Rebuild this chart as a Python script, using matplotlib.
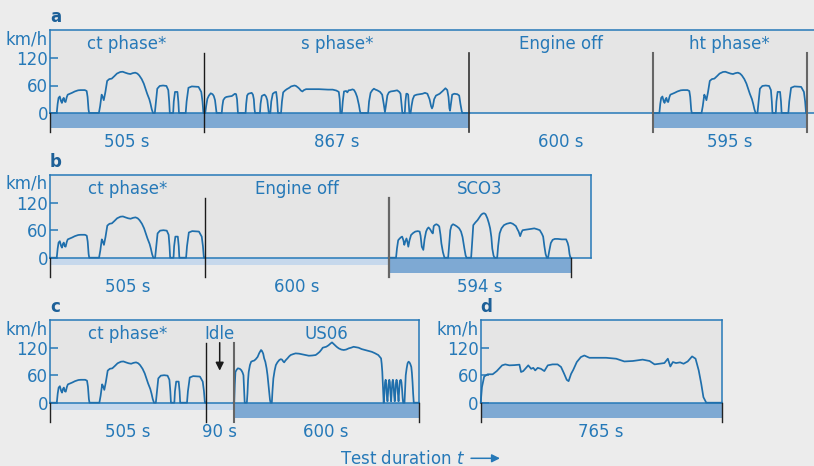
import matplotlib
matplotlib.use("Agg")
import matplotlib.pyplot as plt
from matplotlib.patches import Rectangle
import numpy as np

# ---------------- data ----------------
# FTP-75 cold transient phase (also used for hot transient), seconds / km/h
ct_t = [0, 22, 25, 28, 32, 36, 39, 42, 45, 48, 51, 55, 58, 65, 72, 81, 92, 100, 114, 120, 123, 126, 128,
        160, 164, 169, 172, 176, 181, 187, 194, 202, 210, 219, 230, 238, 246, 255, 263, 271, 279, 286, 292,
        300, 307, 318, 325, 329, 333, 337, 343, 346, 351, 359, 370, 381, 387, 390, 392, 403, 405, 409, 417,
        420, 422, 444, 447, 453, 464, 486, 495, 499, 502, 505]
ct_v = [0, 0, 20, 33, 36, 26, 22, 30, 33, 25, 24, 35, 40, 42, 44, 47, 49.5, 50, 50, 48, 35, 8, 0,
        0, 15, 40, 36, 28, 45, 70, 74, 75, 80, 86, 89.5, 90, 88, 86, 85, 87, 88, 86, 82,
        74, 64, 42, 30, 20, 8, 0, 0, 20, 53, 59, 60, 59, 50, 25, 0, 0, 25, 46, 46,
        25, 0, 0, 25, 55, 58, 57, 46, 25, 0, 0]

# FTP-75 stabilized phase
s_t = [0, 3, 6, 10, 15, 21, 27, 31, 35, 38, 40,
       57, 59, 62, 67, 72, 80, 90, 96, 100, 104, 107, 110,
       135, 137, 140, 144, 150, 155, 159, 162, 164, 166,
       182, 184, 188, 193, 197, 202, 206, 209, 211,
       216, 219, 224, 230, 235, 238, 240, 241,
       251, 254, 258, 264, 270, 278, 284, 289, 295, 300, 306, 311, 316, 321, 326, 333, 345, 360, 375,
       390, 405, 420, 432, 440, 443, 445,
       450, 453, 457, 464, 468, 472, 478, 485, 490, 495, 500, 506, 509, 511,
       536, 539, 544, 550, 555, 560, 566, 575, 582, 587, 591, 594, 599, 604, 610, 620, 631, 638, 642,
       645, 648,
       656, 658, 661, 664, 667, 669, 671,
       675, 678, 682, 687, 695, 705, 714, 722, 730, 737, 742, 745, 748, 752, 758, 770, 780, 789, 795,
       799, 802, 804, 807, 811, 818, 828, 834, 838, 842, 844, 867]
s_v = [0, 0, 15, 31, 38, 43, 41, 37, 28, 10, 0,
       0, 15, 28, 33, 35, 36, 37, 40, 42, 41, 30, 0,
       0, 20, 38, 42, 43, 44, 40, 30, 10, 0,
       0, 20, 37, 39, 40, 36, 28, 10, 0,
       0, 25, 42, 45, 46, 30, 10, 0,
       0, 25, 45, 49, 52, 55, 58, 59, 60, 59, 56, 53, 49, 47, 50, 52, 52, 52, 52,
       51.5, 51, 51, 49, 46, 30, 0,
       0, 25, 47, 48, 45, 49.5, 50, 51.6, 50, 44, 35, 17, 5, 0,
       0, 25, 44, 50, 53, 51, 49.5, 46, 40, 20, 2, 15, 38.5, 45, 47, 48, 49.5, 46, 42,
       20, 0,
       0, 25, 42, 42, 40, 20, 0,
       0, 15, 30, 38, 40, 41, 42, 44, 42, 30, 15, 10, 15, 30, 38, 42, 48, 54, 50,
       35, 10, 5, 20, 40, 42, 41, 38, 20, 5, 0, 0]

# SC03
sc03_t = [0, 24, 27, 31, 36, 41, 44, 48, 51, 54, 58, 61, 64, 68, 73, 80, 87, 95, 101, 104, 108, 113, 117,
          122, 126, 130, 134, 137, 141, 144, 147, 152, 156, 161, 165, 169, 172, 177, 182,
          194, 197, 201, 205, 210, 216, 223, 230, 236, 241, 247, 251, 254,
          269, 272, 276, 283, 290, 295, 301, 306, 311, 316, 322, 327, 331, 335, 338, 342, 345,
          354, 357, 362, 368, 376, 385, 397, 405, 415, 420, 424, 429, 433, 437, 446, 456, 466, 475,
          485, 493, 500, 504, 508, 512, 516, 520, 524, 529, 535, 542, 552, 565, 579, 584, 587, 590,
          593, 594]
sc03_v = [0, 0, 20, 38, 42, 45, 46, 38, 28, 35, 42, 35, 24, 38, 49.5, 54, 57, 58, 57, 48, 24, 17, 40,
          57, 63, 66, 63, 60, 55, 53, 69, 72, 73, 71, 68, 50, 31, 12, 0,
          0, 25, 60, 70, 73, 71, 68, 64, 57, 45, 20, 5, 0,
          0, 30, 71, 77, 82, 87, 93, 96, 97, 95, 86, 75, 64, 45, 20, 5, 0,
          0, 25, 53, 64, 71, 74, 76, 74, 69, 62, 57, 47, 55, 60, 61, 62, 63, 64,
          62, 60, 52, 46, 25, 8, 0, 0, 15, 32, 39, 41, 41, 40, 40, 32, 24, 8,
          0, 0]

# US06
us06_t = [0, 2, 4, 6, 10, 14, 20, 25, 29, 32, 34, 36, 43, 45, 47, 49, 53, 57, 62, 67, 72, 78, 83, 87,
          89, 92, 96, 99, 103, 107, 110, 113, 116, 118, 120, 124, 126, 129, 133, 137, 142, 148, 153,
          157, 161, 164, 168, 175, 180, 185, 193, 201, 212, 223, 233, 244, 255, 266, 272, 279, 285,
          289, 294, 300, 305, 309, 314, 319, 323, 328, 334, 341, 349, 357, 365, 373, 381, 389, 397,
          405, 415, 426, 437, 448, 458, 469, 474, 478, 480, 482, 484, 486.5,
          489, 491, 493, 495, 497, 498.8, 501, 503, 504.7, 506.5, 508.5, 510.6, 512.5, 514.5, 516.4,
          518.5, 520.5, 522.3, 524.5, 526.5, 528.2, 530, 532, 534.7, 537, 539, 542, 544, 546, 548,
          549.6, 554, 556, 558, 561, 564, 567, 570, 573, 576, 578, 580, 582, 584, 600]
us06_v = [0, 0, 40, 67, 72, 75, 74, 71, 66, 60, 30, 0, 0, 20, 50, 67, 82, 89.5, 91, 92, 95, 100, 108, 113,
          115, 113, 107, 97, 89, 75, 60, 40, 18, 6, 0, 0, 25, 53, 70, 82, 88, 93, 95,
          94, 90, 88, 92, 97, 101, 104, 106, 107.6, 107, 105.5, 104, 102.5, 103, 104, 107, 111, 116,
          120, 121, 122, 124, 126, 129, 131.6, 129, 126, 122, 118.5, 116, 115, 116, 118.5, 120, 122, 121,
          120, 117, 115, 113, 111, 108, 104, 100, 96.7, 85, 67.6, 35, 0,
          20, 45, 50, 40, 15, 3, 25, 45, 50, 45, 20, 3, 25, 45, 50,
          40, 15, 3, 25, 45, 50, 45, 25, 3, 30, 48, 50, 45, 30, 10,
          0, 0, 30, 60, 75, 86, 89.5, 88, 84, 78, 65, 45, 20, 0, 0]

# HWFET
hw_t = [0, 4, 11, 22, 38, 51, 68, 78, 91, 107, 123, 128, 135, 144, 151, 160, 167, 173, 181, 191, 202,
        213, 228, 244, 255, 265, 273, 279, 287, 294, 305, 318, 329, 345, 366, 398, 430, 456, 483, 514,
        536, 552, 567, 583, 594, 602, 610, 620, 633, 644, 657, 671, 682, 692, 700, 707, 716, 765]
hw_v = [0, 34, 57, 62, 62, 69, 81.5, 83.6, 81.5, 82, 83, 67, 69, 76, 81.5, 74, 76, 70.5, 76, 74, 69,
        81.5, 83.6, 83.6, 78, 63, 50, 47, 63, 72, 88.7, 99.6, 103, 98, 98, 98, 96, 90, 91, 94,
        91, 83.6, 85, 86.5, 96, 79, 88.7, 86.5, 88, 85, 90, 101, 96, 70.5, 41.5, 12, 0, 0]

y_ticks = [0, 60, 120]
y_tick_labels = ["0", "60", "120"]

a_titles = ["ct phase*", "s phase*", "Engine off", "ht phase*"]
a_labels = ["505 s", "867 s", "600 s", "595 s"]
b_titles = ["ct phase*", "Engine off", "SCO3"]
b_labels = ["505 s", "600 s", "594 s"]
c_titles = ["ct phase*", "Idle", "US06"]
c_labels = ["505 s", "90 s", "600 s"]
d_labels = ["765 s"]
engine_off_s = 600
idle_s = 90

# ---------------- style ----------------
W, H, DPI = 814, 466, 100
BLUE = "#2679b8"
LINE = "#1f6fac"
DARKBAR = "#7ea9d3"
LIGHTBAR = "#c6d8ec"
BG = "#ececec"
BOX = "#e5e5e5"
LETTER = "#1d6098"
KPX = 27.5 / 60.0      # pixels per km/h
PT = 0.72              # points per pixel

fig = plt.figure(figsize=(W / DPI, H / DPI), dpi=DPI, facecolor=BG)


def panel(left, right, top, zero, xmax, letter):
    ax = fig.add_axes([left / W, 1 - zero / H, (right - left) / W, (zero - top) / H])
    ax.set_facecolor(BOX)
    ax.set_xlim(0, xmax)
    ax.set_ylim(0, (zero - top) / KPX)
    for s in ax.spines.values():
        s.set_color(BLUE)
        s.set_linewidth(1.1)
    ax.set_xticks([])
    ax.set_yticks(y_ticks)
    ax.set_yticklabels(y_tick_labels)
    ax.tick_params(axis='y', direction='in', length=8 * PT, width=1.1, color=BLUE,
                   labelcolor=BLUE, labelsize=12, pad=1.5)
    ax.annotate("km/h", xy=(0, 1), xycoords='axes fraction', xytext=(-1.5, -14 * PT),
                textcoords='offset points', ha='right', va='baseline', color=BLUE, fontsize=12)
    ax.annotate(letter, xy=(0, 1), xycoords='axes fraction', xytext=(0, 8 * PT),
                textcoords='offset points', ha='left', va='baseline', color=LETTER,
                fontsize=12, fontweight='bold')
    return ax


def bar(ax, t0, t1, kind):
    depth = (15 if kind == 'dark' else 7.5) / KPX
    ax.add_patch(Rectangle((t0, -depth), t1 - t0, depth, facecolor=DARKBAR if kind == 'dark' else LIGHTBAR,
                           lw=0, clip_on=False, zorder=1))


def sep(ax, t, tall, color="#222222", lw=1.0):
    top = 60 / KPX if tall else 0
    ax.plot([t, t], [top, -19 / KPX], color=color, lw=lw, clip_on=False, zorder=4)


def curve(ax, t0, tt, vv):
    ax.plot(np.asarray(tt) + t0, vv, color=LINE, lw=1.25, clip_on=False, zorder=3,
            solid_joinstyle='round')


def texts(ax, bounds, titles, labels):
    for (t0, t1), ti, la in zip(bounds, titles, labels):
        c = (t0 + t1) / 2
        if ti:
            ax.text(c, 64 / KPX, ti, ha='center', va='baseline', color=BLUE, fontsize=12)
        ax.text(c, -34 / KPX, la, ha='center', va='baseline', color=BLUE, fontsize=12, clip_on=False)


# ---------------- panel a ----------------
sa = 0.3056
ax = panel(50, 830, 30, 113, (830 - 50) / sa, "a")
segs_a = [ct_t[-1], s_t[-1], engine_off_s, ct_t[-1]]
ba = np.concatenate([[0], np.cumsum(segs_a)])
curve(ax, ba[0], ct_t, ct_v)
curve(ax, ba[1], s_t, s_v)
curve(ax, ba[3], ct_t, ct_v)
bar(ax, ba[0], ba[2], 'dark')
bar(ax, ba[3], ba[4], 'dark')
sep(ax, 0, False)
sep(ax, ba[1], True, "#1a1a1a", 1.0)
sep(ax, ba[2], True, "#333333", 1.2)
sep(ax, ba[3], True, "#666666", 1.5)
sep(ax, ba[4], True, "#666666", 1.5)
texts(ax, list(zip(ba[:-1], ba[1:])), a_titles, a_labels)

# ---------------- panel b ----------------
sb = 0.3065
ax = panel(50, 590.7, 174.7, 257.7, (590.7 - 50) / sb, "b")
segs_b = [ct_t[-1], engine_off_s, sc03_t[-1]]
bb = np.concatenate([[0], np.cumsum(segs_b)])
curve(ax, bb[0], ct_t, ct_v)
curve(ax, bb[2], sc03_t, sc03_v)
bar(ax, bb[0], bb[2], 'light')
bar(ax, bb[2], bb[3], 'dark')
sep(ax, 0, False)
sep(ax, bb[1], True, "#1a1a1a", 1.0)
sep(ax, bb[2], True, "#666666", 1.6)
sep(ax, bb[3], False)
texts(ax, list(zip(bb[:-1], bb[1:])), b_titles, b_labels)

# ---------------- panel c ----------------
segs_c = [ct_t[-1], idle_s, us06_t[-1]]
bc = np.concatenate([[0], np.cumsum(segs_c)])
ax = panel(50, 418.7, 320, 402.7, bc[-1], "c")
curve(ax, bc[0], ct_t, ct_v)
curve(ax, bc[2], us06_t, us06_v)
bar(ax, bc[0], bc[2], 'light')
bar(ax, bc[2], bc[3], 'dark')
sep(ax, 0, False)
sep(ax, bc[1], True, "#1a1a1a", 1.0)
sep(ax, bc[2], True, "#666666", 1.5)
sep(ax, bc[3], False)
texts(ax, list(zip(bc[:-1], bc[1:])), c_titles, c_labels)
xi = (bc[1] + bc[2]) / 2
ax.annotate("", xy=(xi, (402.7 - 370.7) / KPX), xytext=(xi, (402.7 - 342.7) / KPX),
            arrowprops=dict(arrowstyle='-|>', color='#1a1a1a', lw=1.1,
                            mutation_scale=12, shrinkA=0, shrinkB=0))

# ---------------- panel d ----------------
ax = panel(480.7, 721.7, 320, 402.7, hw_t[-1], "d")
curve(ax, 0, hw_t, hw_v)
bar(ax, 0, hw_t[-1], 'dark')
sep(ax, 0, False)
sep(ax, hw_t[-1], False)
texts(ax, [(0, hw_t[-1])], [None], d_labels)

# ---------------- axis caption ----------------
fig.text(340 / W, 1 - 463.5 / H, r"Test duration $t$", ha='left', va='baseline', color=BLUE, fontsize=12)
fig.add_artist(matplotlib.patches.FancyArrowPatch(
    (471 / W, 1 - 458.3 / H), (500 / W, 1 - 458.3 / H), transform=fig.transFigure,
    arrowstyle='-|>', color=BLUE, lw=1.1, mutation_scale=12, shrinkA=0, shrinkB=0))

fig.savefig("out.png", dpi=DPI, facecolor=BG)
